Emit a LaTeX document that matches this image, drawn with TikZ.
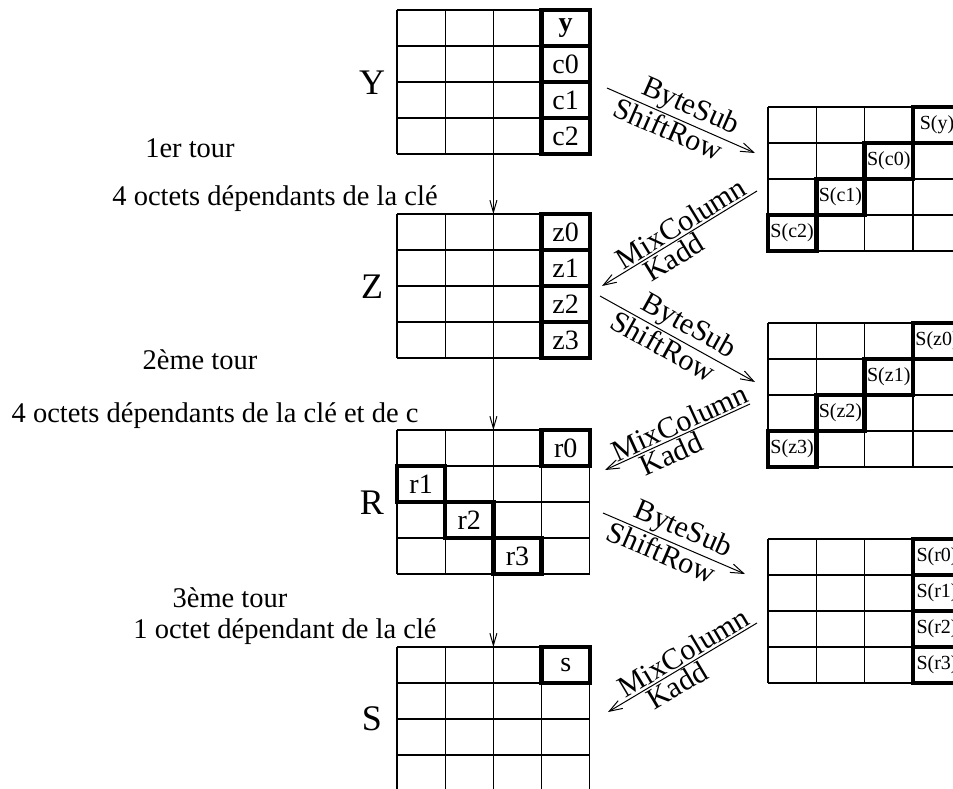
\documentclass[tikz,border=0pt]{standalone}
\usepackage{fontspec}
\setmainfont{Liberation Serif}
\usetikzlibrary{arrows.meta}
\newcommand\aesgrid[3]{%
  \foreach \i in {0,...,4}{%
    \draw[gline] (#1,#2+36*\i) -- (#1+4*#3,#2+36*\i);
    \draw[gline] (#1+#3*\i,#2) -- (#1+#3*\i,#2+144);
  }}
\begin{document}
\begin{tikzpicture}[x=1pt,y=-1pt,
  gline/.style={line width=1.2pt,black},
  gridbox/.style={inner sep=0pt,outer sep=0pt,minimum width=#1,minimum height=144pt,anchor=north west},
  hl/.style={draw,line width=4.5pt,inner sep=0pt,outer sep=0pt,minimum width=48.2pt,minimum height=36pt,font=\fontsize{28}{30}\selectfont},
  hlr/.style={draw,line width=4.5pt,inner sep=0pt,outer sep=0pt,minimum width=48.3pt,minimum height=36pt,font=\fontsize{20}{24}\selectfont},
  txt/.style={inner sep=0pt,font=\fontsize{28.5}{34}\selectfont},
  bigl/.style={inner sep=0pt,font=\fontsize{36}{40}\selectfont},
  albl/.style={inner sep=1.5pt,sloped,font=\fontsize{30}{34}\selectfont},
  arr/.style={line width=1pt,-{Straight Barb[length=13pt,width=9pt]}},
  rarr/.style={line width=1pt,{Straight Barb[length=13pt,width=9pt]}-},
  varr/.style={line width=1pt,-{Straight Barb[length=12pt,width=7pt]}}
]
\useasboundingbox (0,0) rectangle (953,788);
\clip (0,0) rectangle (953,788);

% left grids
\node[gridbox=192.8pt] (Yg) at (397,10) {};
\node[gridbox=192.8pt] (Zg) at (397,214) {};
\node[gridbox=192.8pt] (Rg) at (397,430) {};
\node[gridbox=192.8pt] (Sg) at (397,647) {};
\aesgrid{397}{10}{48.2}
\aesgrid{397}{214}{48.2}
\aesgrid{397}{430}{48.2}
\aesgrid{397}{647}{48.2}

% right grids
\node[gridbox=193.2pt] (G1) at (768,107) {};
\node[gridbox=193.2pt] (G2) at (768,323) {};
\node[gridbox=193.2pt] (G3) at (768,539) {};
\aesgrid{768}{107}{48.3}
\aesgrid{768}{323}{48.3}
\aesgrid{768}{539}{48.3}

% big letters
\node[bigl] (Yl) at (372,83) {Y};
\node[bigl] (Zl) at (372,287) {Z};
\node[bigl] (Rl) at (372,503) {R};
\node[bigl] (Sl) at (372,719) {S};

% Y grid cells
\node[hl] (cy) at (565.7,28) {\textbf{y}};
\node[hl] (cc0) at (565.7,64) {c0};
\node[hl] (cc1) at (565.7,100) {c1};
\node[hl] (cc2) at (565.7,136) {c2};
% Z grid cells
\node[hl] (cz0) at (565.7,232) {z0};
\node[hl] (cz1) at (565.7,268) {z1};
\node[hl] (cz2) at (565.7,304) {z2};
\node[hl] (cz3) at (565.7,340) {z3};
% R grid cells
\node[hl] (cr0) at (565.7,448) {r0};
\node[hl] (cr1) at (421.1,484) {r1};
\node[hl] (cr2) at (469.3,520) {r2};
\node[hl] (cr3) at (517.5,556) {r3};
% S grid cell
\node[hl] (cs) at (565.7,665) {s};

% right grid 1
\node[hlr] (sy) at (937.05,125) {S(y)};
\node[hlr] (sc0) at (888.75,161) {S(c0)};
\node[hlr] (sc1) at (840.45,197) {S(c1)};
\node[hlr] (sc2) at (792.15,233) {S(c2)};
% right grid 2
\node[hlr] (sz0) at (937.05,341) {S(z0)};
\node[hlr] (sz1) at (888.75,377) {S(z1)};
\node[hlr] (sz2) at (840.45,413) {S(z2)};
\node[hlr] (sz3) at (792.15,449) {S(z3)};
% right grid 3
\node[hlr] (sr0) at (937.05,557) {S(r0)};
\node[hlr] (sr1) at (937.05,593) {S(r1)};
\node[hlr] (sr2) at (937.05,629) {S(r2)};
\node[hlr] (sr3) at (937.05,665) {S(r3)};

% left texts
\node[txt,anchor=base] (t1) at (190,157) {1er tour};
\node[txt,anchor=base] (t2) at (275,205) {4 octets dépendants de la clé};
\node[txt,anchor=base] (t3) at (200,369) {2ème tour};
\node[txt,anchor=base] (t4) at (215,422) {4 octets dépendants de la clé et de c};
\node[txt,anchor=base] (t5) at (230,607) {3ème tour};
\node[txt,anchor=base] (t6) at (285,638) {1 octet dépendant de la clé};

% vertical arrows
\draw[varr] (Yg.south) -- (Zg.north);
\draw[varr] (Zg.south) -- (Rg.north);
\draw[varr] (Rg.south) -- (Sg.north);

% diagonal arrows
\coordinate (a1s) at (607,88);  \coordinate (a1e) at (755,153);
\coordinate (a2s) at (757,191); \coordinate (a2e) at (602,286);
\coordinate (a3s) at (600,296); \coordinate (a3e) at (755,382);
\coordinate (a4s) at (750,404); \coordinate (a4e) at (605,470);
\coordinate (a5s) at (603,513); \coordinate (a5e) at (745,574);
\coordinate (a6s) at (757,623); \coordinate (a6e) at (608,712);

\draw[arr] (a1s) -- (a1e)
  node[albl,pos=0.52,above] {ByteSub}
  node[albl,pos=0.45,below] {ShiftRow};
\draw[rarr] (a2e) -- (a2s)
  node[albl,pos=0.55,above] {MixColumn}
  node[albl,pos=0.42,below] {Kadd};
\draw[arr] (a3s) -- (a3e)
  node[albl,pos=0.52,above] {ByteSub}
  node[albl,pos=0.45,below] {ShiftRow};
\draw[rarr] (a4e) -- (a4s)
  node[albl,pos=0.55,above] {MixColumn}
  node[albl,pos=0.42,below] {Kadd};
\draw[arr] (a5s) -- (a5e)
  node[albl,pos=0.52,above] {ByteSub}
  node[albl,pos=0.45,below] {ShiftRow};
\draw[rarr] (a6e) -- (a6s)
  node[albl,pos=0.55,above] {MixColumn}
  node[albl,pos=0.42,below] {Kadd};
\end{tikzpicture}
\end{document}
